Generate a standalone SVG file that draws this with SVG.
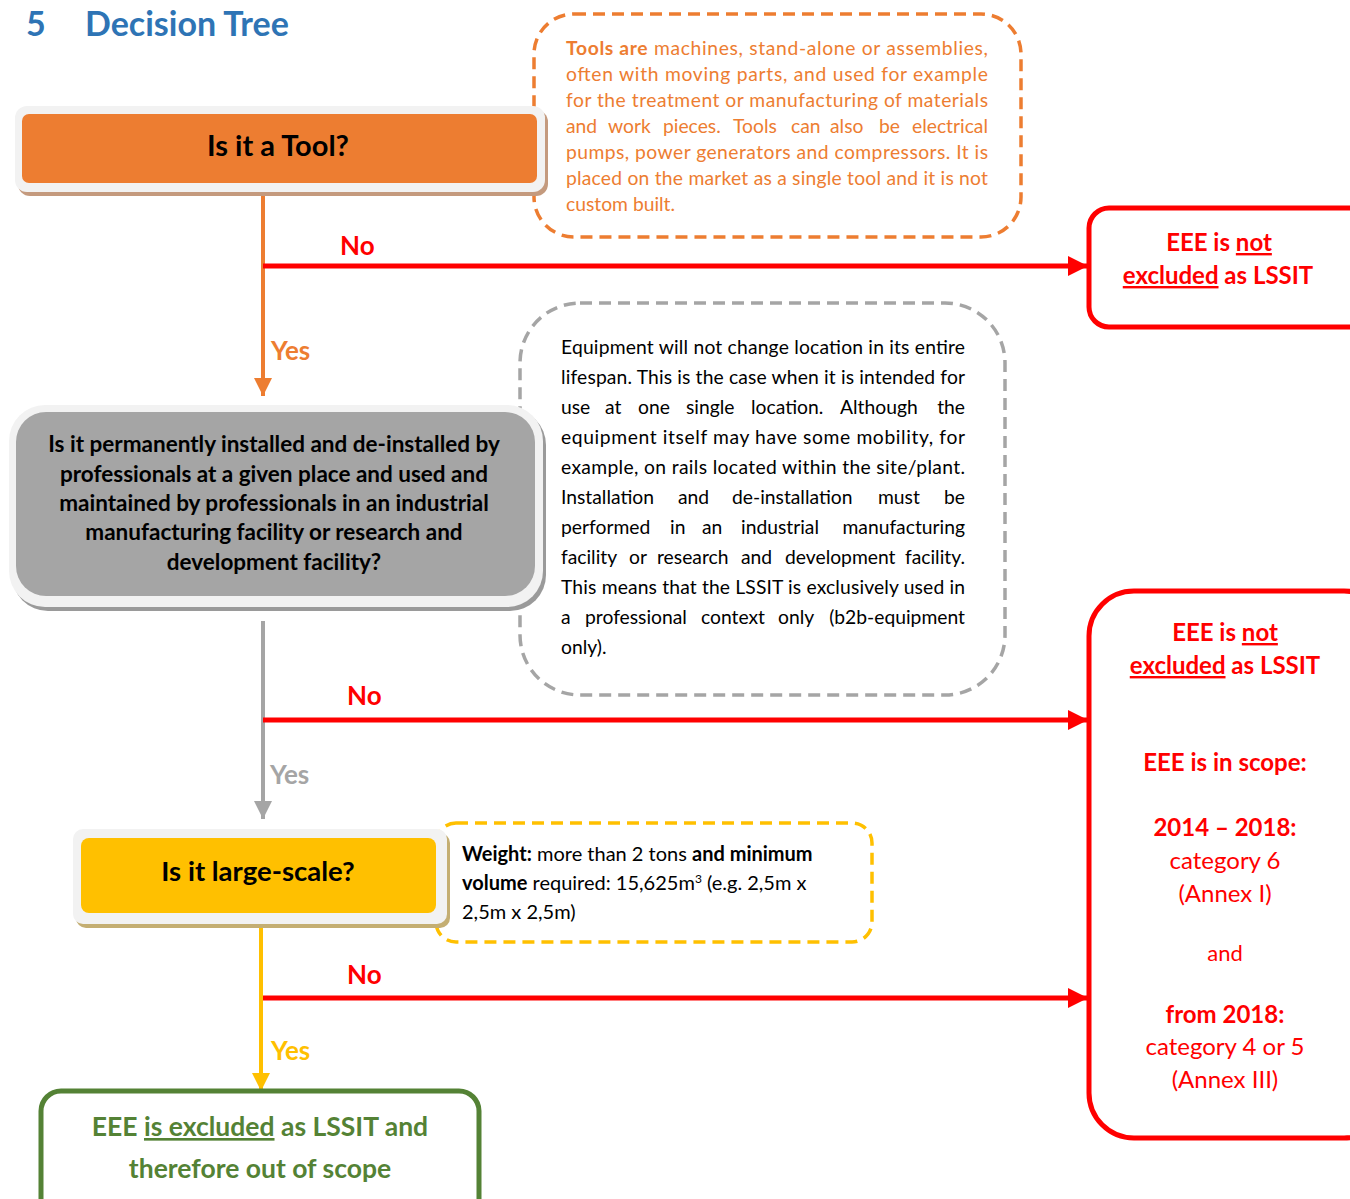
<svg xmlns="http://www.w3.org/2000/svg" width="1350" height="1199" viewBox="0 0 1350 1199">
<defs>
<style>
text{font-family:Lato,"Liberation Sans",sans-serif}
.b{font-weight:bold}
.c{text-anchor:middle}
.e{text-anchor:end}
.red{fill:#FF0000}
.lbl{font-size:26px;font-weight:bold}
.dash{fill:#fff;stroke-width:3.5;stroke-dasharray:12 7}
.note{font-size:19.3px}
.q{font-weight:bold;fill:#000}
</style>
<marker id="ar" viewBox="0 0 10 10" refX="10" refY="5" markerWidth="4" markerHeight="4.4" orient="auto" markerUnits="strokeWidth"><path d="M0,0L10,5L0,10z" fill="#FF0000"/></marker>
<marker id="ao" viewBox="0 0 10 10" refX="10" refY="5" markerWidth="4.5" markerHeight="4.5" orient="auto" markerUnits="strokeWidth"><path d="M0,0L10,5L0,10z" fill="#ED7D31"/></marker>
<marker id="ag" viewBox="0 0 10 10" refX="10" refY="5" markerWidth="4.5" markerHeight="4.5" orient="auto" markerUnits="strokeWidth"><path d="M0,0L10,5L0,10z" fill="#A5A5A5"/></marker>
<marker id="ay" viewBox="0 0 10 10" refX="10" refY="5" markerWidth="4.5" markerHeight="4.5" orient="auto" markerUnits="strokeWidth"><path d="M0,0L10,5L0,10z" fill="#FFC000"/></marker>
</defs>
<rect width="1350" height="1199" fill="#fff"/>

<g id="title">
<text x="26" y="36" class="b" font-size="34" fill="#2E74B5">5</text>
<text x="85" y="36" class="b" font-size="34" fill="#2E74B5">Decision Tree</text>
</g>

<g id="tool-note">
<rect x="534" y="14" width="487" height="223" rx="40" class="dash" stroke="#ED7D31"/>
<g class="note" fill="#ED7D31">
<text x="566" y="55" textLength="422" lengthAdjust="spacing"><tspan class="b">Tools are</tspan> machines, stand-alone or assemblies,</text>
<text x="566" y="81" textLength="422" lengthAdjust="spacing">often with moving parts, and used for example</text>
<text x="566" y="107" textLength="422" lengthAdjust="spacing">for the treatment or manufacturing of materials</text>
<text y="133"><tspan x="566">and</tspan><tspan x="608">work</tspan><tspan x="663">pieces.</tspan><tspan x="733">Tools</tspan><tspan x="791">can</tspan><tspan x="830">also</tspan><tspan x="879">be</tspan></text>
<text x="988" y="133" class="e">electrical</text>
<text x="566" y="159" textLength="422" lengthAdjust="spacing">pumps, power generators and compressors. It is</text>
<text x="566" y="185" textLength="422" lengthAdjust="spacing">placed on the market as a single tool and it is not</text>
<text x="566" y="211">custom built.</text>
</g>
</g>

<g id="permanent-note">
<rect x="520" y="303" width="485" height="392" rx="60" class="dash" stroke="#A5A5A5"/>
<g class="note" fill="#000">
<text x="561" y="354" textLength="404" lengthAdjust="spacing">Equipment will not change location in its entire</text>
<text x="561" y="384" textLength="404" lengthAdjust="spacing">lifespan.  This is the case when it is intended for</text>
<text y="414"><tspan x="561">use</tspan><tspan x="605">at</tspan><tspan x="638">one</tspan><tspan x="686">single</tspan><tspan x="751">location.</tspan><tspan x="840">Although</tspan></text>
<text x="965" y="414" class="e">the</text>
<text x="561" y="444" textLength="404" lengthAdjust="spacing">equipment itself may have some mobility, for</text>
<text x="561" y="474" textLength="404" lengthAdjust="spacing">example, on rails located within the site/plant.</text>
<text y="504"><tspan x="561">Installation</tspan><tspan x="678">and</tspan><tspan x="732">de-installation</tspan><tspan x="878">must</tspan></text>
<text x="965" y="504" class="e">be</text>
<text y="534"><tspan x="561">performed</tspan><tspan x="670">in</tspan><tspan x="702">an</tspan><tspan x="741">industrial</tspan></text>
<text x="965" y="534" class="e">manufacturing</text>
<text y="564"><tspan x="561">facility</tspan><tspan x="629">or</tspan><tspan x="657">research</tspan><tspan x="741">and</tspan><tspan x="785">development</tspan></text>
<text x="965" y="564" class="e">facility.</text>
<text x="561" y="594" textLength="404" lengthAdjust="spacing">This means that the LSSIT is exclusively used in</text>
<text y="624"><tspan x="561">a</tspan><tspan x="585">professional</tspan><tspan x="701">context</tspan><tspan x="778">only</tspan></text>
<text x="965" y="624" class="e">(b2b-equipment</text>
<text x="561" y="654">only).</text>
</g>
</g>

<g id="large-note">
<rect x="436" y="823" width="436" height="119" rx="20" class="dash" stroke="#FFC000"/>
<g font-size="20" fill="#000">
<text x="462" y="861"><tspan class="b">Weight:</tspan>  more than 2 tons <tspan class="b">and minimum</tspan></text>
<text x="462" y="890"><tspan class="b">volume</tspan> required: 15,625m<tspan font-size="12" dy="-7">3</tspan><tspan dy="7"> (e.g. 2,5m x</tspan></text>
<text x="462" y="919">2,5m x 2,5m)</text>
</g>
</g>

<g id="connectors">
<line x1="263" y1="196" x2="263" y2="396" stroke="#ED7D31" stroke-width="4" marker-end="url(#ao)"/>
<line x1="263" y1="621" x2="263" y2="819" stroke="#A5A5A5" stroke-width="4" marker-end="url(#ag)"/>
<line x1="261" y1="924" x2="261" y2="1091" stroke="#FFC000" stroke-width="4" marker-end="url(#ay)"/>
<line x1="263" y1="266" x2="1088" y2="266" stroke="#FF0000" stroke-width="5" marker-end="url(#ar)"/>
<line x1="263" y1="720" x2="1088" y2="720" stroke="#FF0000" stroke-width="5" marker-end="url(#ar)"/>
<line x1="263" y1="998" x2="1088" y2="998" stroke="#FF0000" stroke-width="5" marker-end="url(#ar)"/>
<text x="340" y="255" class="lbl red">No</text>
<text x="347" y="705" class="lbl red">No</text>
<text x="347" y="984" class="lbl red">No</text>
<text x="271" y="360" class="lbl" fill="#ED7D31">Yes</text>
<text x="270" y="784" class="lbl" fill="#A5A5A5">Yes</text>
<text x="271" y="1060" class="lbl" fill="#FFC000">Yes</text>
</g>

<g id="tool">
<rect x="18" y="110" width="530" height="86" rx="12" fill="#C49A7E"/>
<rect x="15" y="106" width="530" height="86" rx="12" fill="#F2F2F2"/>
<rect x="22" y="114" width="515" height="69" rx="7" fill="#ED7D31"/>
<text x="278" y="156" class="c q" font-size="29">Is it a Tool?</text>
</g>

<g id="not-excluded-1">
<rect x="1089" y="208" width="290" height="119" rx="20" fill="#fff" stroke="#FF0000" stroke-width="5"/>
<g class="b red c" font-size="24">
<text x="1219" y="251">EEE is <tspan text-decoration="underline">not</tspan></text>
<text x="1218" y="284"><tspan text-decoration="underline">excluded</tspan> as LSSIT</text>
</g>
</g>

<g id="permanent">
<rect x="12" y="409" width="534" height="202" rx="36" fill="#9A9A9A"/>
<rect x="9" y="405" width="534" height="202" rx="36" fill="#F2F2F2"/>
<rect x="16" y="412" width="519" height="184" rx="30" fill="#A5A5A5"/>
<g class="c q" font-size="22.5">
<text x="274" y="452">Is it permanently installed and de-installed by</text>
<text x="274" y="482">professionals at a given place and used and</text>
<text x="274" y="511">maintained by professionals in an industrial</text>
<text x="274" y="540">manufacturing facility or research and</text>
<text x="274" y="570">development facility?</text>
</g>
</g>

<g id="large-scale">
<rect x="76" y="833" width="374" height="95" rx="10" fill="#C4AE72"/>
<rect x="73" y="829" width="374" height="95" rx="10" fill="#F2F2F2"/>
<rect x="81" y="838" width="355" height="75" rx="8" fill="#FFC000"/>
<text x="258" y="881" class="c q" font-size="27.5">Is it large-scale?</text>
</g>

<g id="not-excluded-2">
<rect x="1089" y="591" width="300" height="547" rx="45" fill="#fff" stroke="#FF0000" stroke-width="5"/>
<g class="red c" font-size="24">
<text x="1225" y="641" class="b">EEE is <tspan text-decoration="underline">not</tspan></text>
<text x="1225" y="674" class="b"><tspan text-decoration="underline">excluded</tspan> as LSSIT</text>
<text x="1225" y="771" class="b">EEE is in scope:</text>
<text x="1225" y="836" class="b">2014 – 2018:</text>
<text x="1225" y="869">category 6</text>
<text x="1225" y="902">(Annex I)</text>
<text x="1225" y="961" font-size="22">and</text>
<text x="1225" y="1023" class="b">from 2018:</text>
<text x="1225" y="1055">category 4 or 5</text>
<text x="1225" y="1088">(Annex III)</text>
</g>
</g>

<g id="excluded">
<rect x="41" y="1091" width="438" height="130" rx="20" fill="#fff" stroke="#548235" stroke-width="5"/>
<g class="b c" font-size="26.5" fill="#548235">
<text x="260" y="1136">EEE <tspan text-decoration="underline">is excluded</tspan> as LSSIT and</text>
<text x="260" y="1178">therefore out of scope</text>
</g>
</g>
</svg>
